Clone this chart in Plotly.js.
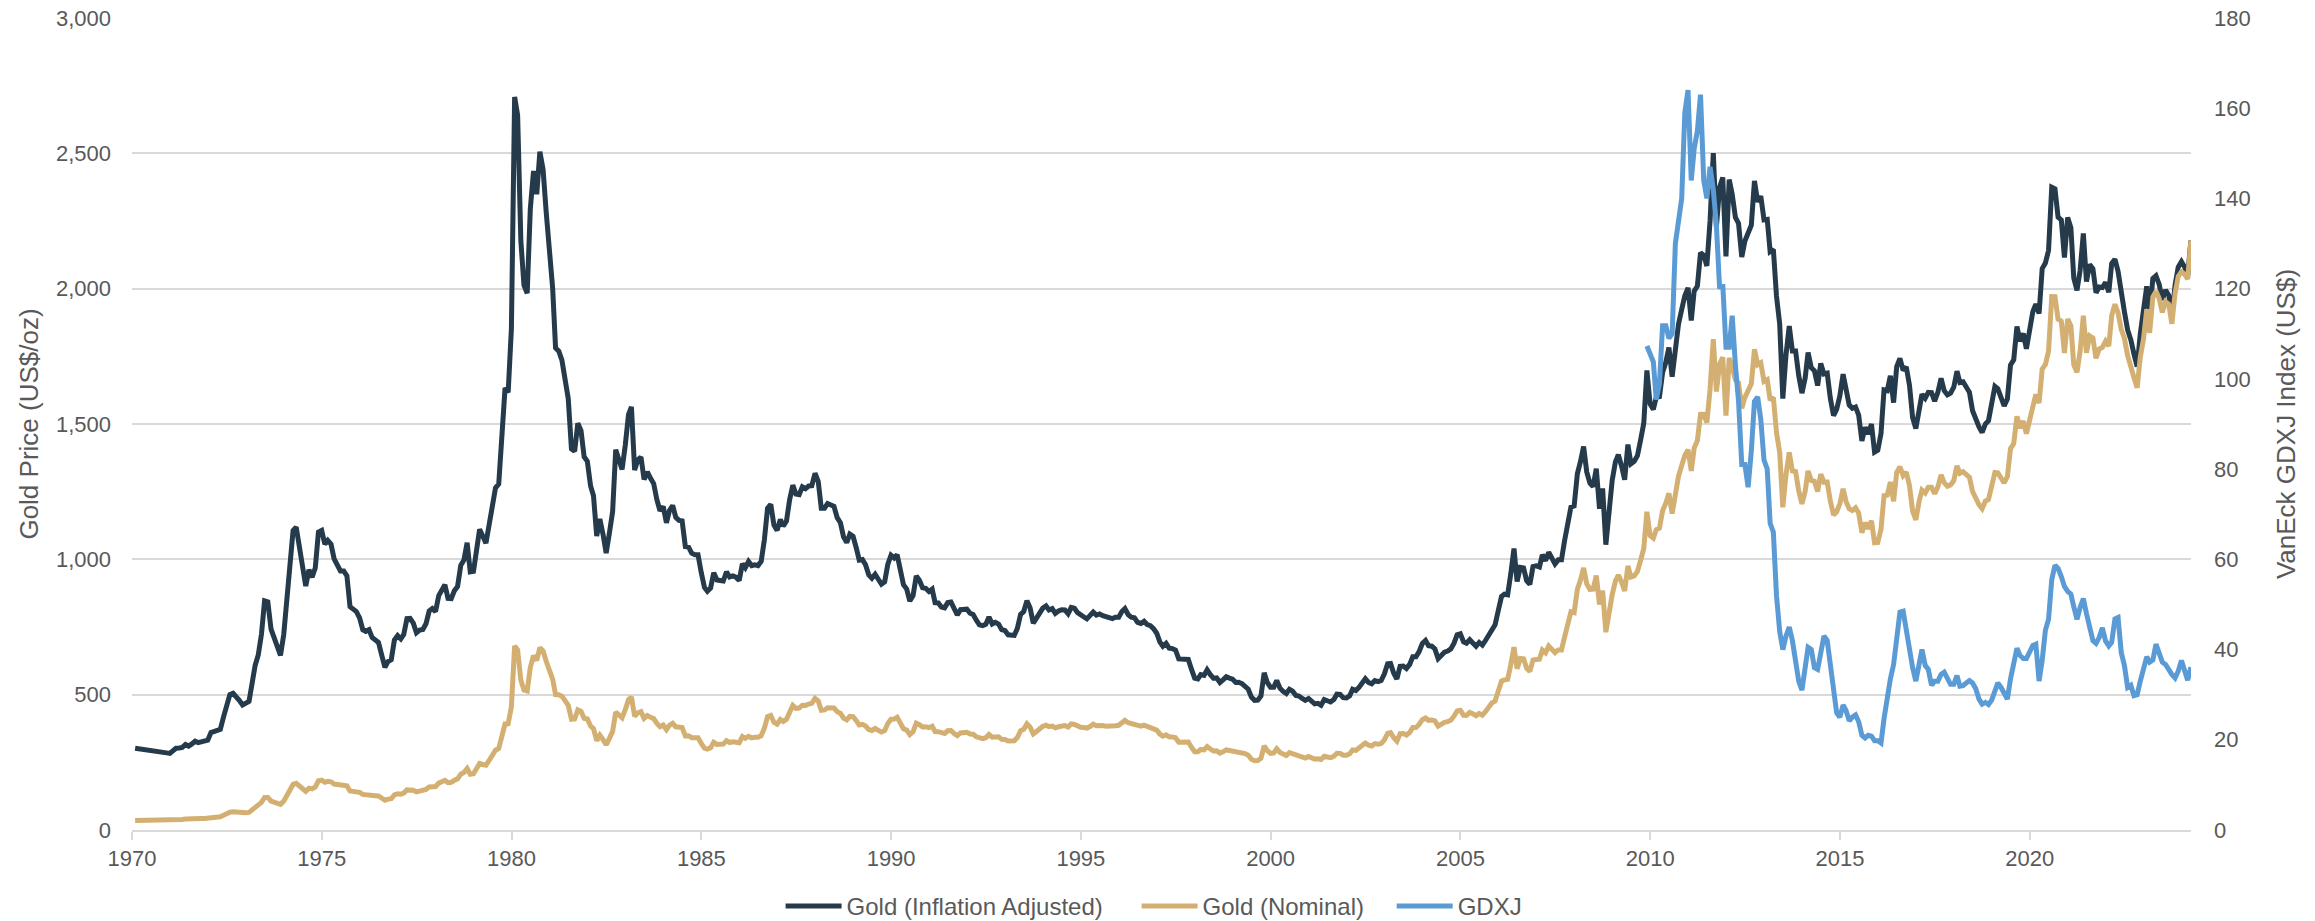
<!DOCTYPE html>
<html>
<head>
<meta charset="utf-8">
<script src="https://cdn.plot.ly/plotly-3.0.1.min.js"></script>
<style>
html,body{margin:0;padding:0;background:#ffffff;}
#chart{width:2315px;height:921px;}
</style>
</head>
<body>
<div id="chart"></div>
<script>
// ---- Data (monthly) ----
const seriesNames = ['Gold (Inflation Adjusted)', 'Gold (Nominal)', 'GDXJ'];
const goldStart = {year: 1970, month: 1};   // first month of the gold series
const gdxjStart = {year: 2009, month: 11};  // first month of the GDXJ series
const xTickLabels = ['1970','1975','1980','1985','1990','1995','2000','2005','2010','2015','2020'];

// Gold (Nominal), US$/oz
const goldNominal = [
  35.0,35.0,35.1,35.1,35.2,35.2,35.2,35.3,35.3,35.3,35.4,35.4,
  37.9,38.7,38.9,39.0,40.5,40.1,41.0,42.7,42.0,42.5,42.9,43.5,
  45.8,48.3,48.3,49.0,54.6,62.1,65.7,67.0,65.5,64.9,62.9,63.9,
  65.1,74.2,84.4,90.5,102.0,120.1,120.4,106.8,103.0,100.1,94.8,106.7,
  129.2,150.2,168.4,172.2,163.3,154.1,143.0,154.6,151.8,158.8,181.7,183.9,
  176.3,179.6,178.1,169.9,167.4,164.2,165.2,163.1,144.0,142.8,142.5,139.3,
  131.6,131.0,132.6,127.9,126.9,125.7,117.6,109.9,114.1,116.0,130.0,133.7,
  132.3,136.3,148.2,149.2,146.6,140.8,143.4,144.8,149.5,159.3,162.0,160.5,
  173.2,178.2,183.7,175.1,176.3,183.7,188.7,206.3,212.1,227.2,206.1,207.8,
  227.3,245.7,242.1,239.2,257.6,279.1,294.7,300.8,355.2,391.7,392.5,455.1,
  680.0,665.3,553.6,517.4,513.8,600.7,644.3,626.5,673.6,661.2,623.5,594.9,
  557.6,500.2,499.8,494.6,479.8,460.8,409.3,410.2,443.3,437.8,412.9,410.1,
  384.1,374.3,330.0,350.4,333.9,314.9,338.6,364.2,435.1,422.4,414.8,444.3,
  481.3,491.5,419.5,432.7,437.4,412.5,422.6,416.2,411.7,393.6,381.5,388.0,
  370.9,386.8,394.3,381.3,377.4,378.2,347.7,348.2,341.1,340.2,341.2,320.2,
  302.7,299.1,304.1,324.3,316.3,316.8,317.3,330.2,323.4,326.1,325.3,322.4,
  345.4,338.9,345.7,340.4,342.6,342.7,348.5,376.7,418.7,423.5,398.4,391.1,
  408.2,401.1,408.9,438.4,460.1,449.6,450.5,461.0,460.2,465.4,467.8,486.3,
  476.7,442.1,443.6,451.7,451.2,451.2,437.1,431.4,413.4,406.8,420.2,418.8,
  404.0,387.8,390.2,384.2,371.0,367.6,375.0,365.4,361.8,366.9,393.8,409.4,
  410.1,416.8,393.1,374.3,369.1,352.3,362.5,394.7,389.3,380.8,381.8,378.1,
  383.6,363.8,363.3,358.4,356.8,366.7,367.7,356.4,348.7,358.7,359.8,361.1,
  354.5,353.9,344.3,338.6,337.2,340.8,353.1,342.9,345.4,344.4,335.0,334.8,
  329.0,329.3,329.9,341.9,367.1,371.9,392.0,379.8,355.3,364.2,373.8,383.3,
  386.9,381.9,384.1,377.3,381.4,385.6,385.5,380.4,391.6,389.8,384.4,379.3,
  378.6,376.6,382.1,391.0,385.2,387.6,386.2,383.7,383.1,383.0,385.5,387.0,
  399.5,404.8,396.2,392.9,391.9,385.3,383.5,387.5,383.1,381.1,377.9,369.0,
  354.1,346.6,351.8,344.5,343.8,340.8,324.1,323.8,323.0,324.9,306.0,289.0,
  289.1,297.5,295.9,308.4,299.1,292.3,292.9,284.1,288.9,296.1,293.9,291.6,
  287.1,287.3,286.0,282.4,276.4,261.3,256.1,256.7,264.7,310.7,293.2,283.1,
  284.6,300.0,286.4,280.0,275.3,285.7,281.6,274.5,273.7,270.0,266.0,271.5,
  265.5,261.9,263.0,260.5,272.4,270.2,267.5,272.4,283.4,283.1,276.2,275.9,
  281.7,295.5,294.0,302.7,314.5,321.2,313.3,310.3,319.2,316.6,319.2,333.4,
  356.9,359.8,340.6,328.2,355.7,356.5,351.0,359.8,378.9,378.9,389.9,407.6,
  414.0,405.3,406.7,403.3,383.8,392.4,398.1,400.5,405.3,420.5,439.4,442.1,
  424.0,423.4,434.2,429.2,421.9,430.7,424.5,437.9,456.0,469.9,476.7,509.8,
  549.9,555.0,557.1,610.6,675.4,596.2,633.7,632.6,598.2,585.8,627.8,629.8,
  631.2,664.8,654.9,679.4,666.9,655.5,665.3,665.4,712.7,754.6,806.3,803.2,
  889.6,922.3,968.4,909.7,888.7,889.5,939.8,833.0,884.5,730.8,814.5,869.8,
  919.5,942.0,916.5,883.3,975.5,934.5,939.0,955.5,995.8,1040.0,1175.8,1087.5,
  1078.5,1109.5,1115.5,1179.3,1207.5,1244.0,1169.0,1246.0,1307.0,1346.8,1383.5,1405.5,
  1327.0,1411.0,1439.0,1535.5,1536.5,1505.5,1628.5,1813.5,1620.0,1722.0,1746.0,1531.0,
  1744.0,1711.0,1662.5,1651.3,1558.0,1598.5,1622.0,1648.5,1776.0,1719.0,1726.0,1657.5,
  1664.0,1588.5,1598.3,1469.0,1394.5,1192.0,1314.5,1394.8,1326.5,1324.0,1253.0,1204.5,
  1251.0,1326.5,1291.8,1288.5,1250.5,1315.0,1285.3,1285.8,1216.5,1164.3,1175.5,1206.0,
  1260.3,1214.0,1187.0,1180.3,1190.5,1171.0,1098.4,1135.0,1114.0,1142.4,1061.1,1062.3,
  1111.8,1234.9,1237.0,1285.7,1214.7,1320.8,1342.0,1309.3,1322.5,1272.0,1178.1,1145.9,
  1212.8,1255.6,1244.9,1266.5,1266.2,1242.3,1267.6,1311.8,1283.1,1270.2,1275.0,1291.0,
  1345.2,1317.9,1323.9,1315.1,1302.7,1250.5,1223.7,1201.6,1187.3,1215.0,1220.7,1279.0,
  1321.0,1319.7,1295.4,1282.3,1305.6,1409.0,1427.6,1528.4,1485.3,1511.0,1464.6,1514.8,
  1582.9,1609.9,1577.2,1702.8,1719.7,1768.1,1971.0,1970.6,1886.9,1879.9,1762.6,1887.6,
  1863.7,1718.0,1691.1,1768.9,1900.0,1763.2,1825.8,1818.1,1742.8,1777.0,1783.3,1805.9,
  1788.2,1900.7,1942.2,1911.3,1848.4,1817.0,1753.4,1718.2,1671.8,1633.6,1747.6,1813.8,
  1923.9,1836.6,1969.0,1990.2,1963.1,1912.3,1951.7,1942.3,1870.1,1983.8,2045.4,2062.4,
  2053.5,2035.3,2178.0
];

// Gold (Inflation Adjusted), US$/oz in today's dollars
const goldReal = [
  302,300,299,297,295,293,291,290,288,286,285,283,
  292,302,303,305,316,310,318,328,323,326,328,332,
  360,365,366,372,418,466,500,505,488,478,462,468,
  475,538,608,647,724,847,843,742,711,686,645,722,
  866,996,1106,1119,1050,982,901,962,934,969,1101,1107,
  1056,1070,1056,1002,981,957,957,939,825,814,807,784,
  740,734,740,711,702,693,646,601,622,629,702,718,
  706,722,781,782,764,729,739,741,762,809,818,807,
  866,884,906,856,855,884,900,978,997,1061,954,956,
  1039,1111,1085,1060,1128,1211,1264,1278,1495,1633,1617,1852,
  2708,2641,2176,2013,1983,2295,2435,2349,2506,2440,2282,2154,
  2002,1781,1769,1736,1674,1594,1408,1399,1503,1475,1379,1362,
  1271,1235,1086,1149,1092,1023,1097,1176,1405,1360,1332,1422,
  1535,1563,1330,1367,1378,1295,1323,1299,1280,1220,1179,1195,
  1135,1180,1199,1155,1144,1142,1047,1045,1023,1017,1017,951,
  896,882,894,950,924,922,920,954,935,939,934,922,
  984,969,992,977,980,977,993,1074,1189,1203,1127,1107,
  1147,1123,1141,1219,1274,1241,1239,1268,1261,1271,1272,1318,
  1287,1189,1189,1206,1200,1196,1154,1135,1083,1062,1093,1085,
  1042,997,999,980,942,930,945,921,908,917,981,1015,
  1005,1017,955,906,890,846,866,939,923,895,893,881,
  890,840,839,824,821,840,842,813,795,814,817,816,
  801,796,775,758,755,760,787,761,767,761,740,737,
  721,721,719,745,797,807,847,820,764,783,800,820,
  828,813,818,800,809,814,813,799,822,819,803,793,
  787,780,791,805,794,798,792,787,782,781,786,786,
  807,818,796,786,784,767,763,771,759,755,744,727,
  694,679,690,672,670,665,632,631,627,630,594,561,
  558,574,571,592,574,561,562,545,555,566,561,557,
  545,546,541,531,520,491,479,480,495,581,545,527,
  527,552,524,512,504,520,513,497,495,486,479,486,
  473,466,468,461,482,478,473,482,502,501,489,488,
  496,520,515,527,547,559,545,540,552,548,552,577,
  614,615,579,558,605,606,597,612,640,640,659,689,
  700,681,679,669,633,647,657,661,669,690,721,725,
  695,690,703,691,679,693,683,701,720,742,758,811,
  863,871,869,946,1040,918,970,968,921,908,973,976,
  972,1017,995,1026,1000,983,998,998,1069,1124,1193,1197,
  1316,1360,1417,1323,1281,1269,1335,1187,1262,1054,1197,1292,
  1360,1387,1345,1294,1424,1353,1362,1383,1440,1503,1698,1574,
  1554,1599,1601,1690,1728,1783,1675,1783,1869,1923,1974,2003,
  1882,1991,2010,2133,2123,2084,2251,2501,2229,2375,2411,2119,
  2403,2348,2263,2241,2117,2176,2211,2235,2398,2321,2342,2254,
  2256,2137,2145,1973,1870,1594,1757,1862,1770,1770,1679,1614,
  1670,1764,1708,1697,1642,1724,1685,1688,1596,1531,1554,1604,
  1684,1616,1570,1558,1563,1533,1437,1488,1463,1500,1396,1403,
  1465,1626,1623,1678,1579,1712,1742,1698,1711,1643,1524,1483,
  1560,1610,1595,1617,1616,1584,1617,1669,1623,1608,1614,1636,
  1695,1653,1656,1640,1617,1549,1516,1489,1469,1500,1512,1590,
  1639,1630,1592,1567,1592,1718,1737,1860,1806,1834,1778,1840,
  1915,1943,1908,2074,2095,2141,2375,2369,2264,2254,2115,2263,
  2225,2039,1994,2068,2204,2026,2089,2074,1985,2006,2004,2023,
  1987,2093,2109,2064,1974,1915,1848,1811,1759,1712,1833,1908,
  2009,1906,2038,2048,2016,1958,1995,1975,1898,2014,2080,2100,
  2080,2047,2178
];

// VanEck GDXJ Index (US$), right axis
const gdxj = [
  107.3,105.3,
  103.8,95.4,99,111.8,111.8,109,110,130,136,140,159,164,
  144,151,155,163,144,140,147,142,134,120,121,107,
  107,114,103,95,81,81,76,84,95,96,91,82,
  80,68,66,52,44,40,43,45,42,37,33,31,
  37,40.5,40,36,35.6,39.5,43,42,37,31,26,25,
  27.7,26.5,24.2,25,25.5,24,21,20.4,21,20.8,19.8,19.8,
  19.3,24.7,30,33.5,36.7,43,48.3,48.5,44,39,36,33,
  37.5,40,36.5,35.6,32.1,33,33,34.5,35,33.3,32.3,32.3,
  34.2,31.9,32,32.6,33.1,32.6,31.3,29,27.9,28.3,27.8,28.8,
  31,32.6,31.6,30.3,29,33.5,37.4,40.3,38.7,38,38,39.8,
  40.9,41.2,33,37.6,44.3,46.7,55.5,58.7,58,56.2,54,52.9,
  52.3,49.5,46.7,49.3,51.3,48,44.4,42,41.4,42.7,44.8,41.9,
  40.8,41.6,46.8,47.1,39.3,36.5,31.6,32.1,29.8,30,33,35.8,
  38.4,37.2,37.7,41.2,39,37.2,36.7,35.5,34.5,33.7,35.2,37.6,
  35.7,33.2,36.1
];

// ---- Month-end dates for each series ----
function monthEnds(start, n) {
  const out = [];
  for (let i = 0; i < n; i++) {
    const d = new Date(Date.UTC(start.year, start.month - 1 + i + 1, 0));
    out.push(d.toISOString().slice(0, 10));
  }
  return out;
}
const goldDates = monthEnds(goldStart, goldNominal.length);
const gdxjDates = monthEnds(gdxjStart, gdxj.length);

const FONT = 'Liberation Sans, Arial, Helvetica, sans-serif';
const TXT = '#595959';
const GRID = '#d9d9d9';

const traces = [
  {
    x: goldDates, y: goldReal, name: seriesNames[0], type: 'scatter', mode: 'lines',
    line: {color: '#253a4a', width: 5, shape: 'linear'}, yaxis: 'y', legend: 'legend'
  },
  {
    x: goldDates, y: goldNominal, name: seriesNames[1], type: 'scatter', mode: 'lines',
    line: {color: '#d3b072', width: 5, shape: 'linear'}, yaxis: 'y', legend: 'legend2'
  },
  {
    x: gdxjDates, y: gdxj, name: seriesNames[2], type: 'scatter', mode: 'lines',
    line: {color: '#5b9bd5', width: 5, shape: 'linear'}, yaxis: 'y2', legend: 'legend3'
  }
];

function legendAt(xFrac) {
  return {
    orientation: 'h', x: xFrac, xanchor: 'left', y: -0.094, yanchor: 'middle',
    font: {family: FONT, size: 24, color: TXT},
    itemwidth: 56, bgcolor: 'rgba(0,0,0,0)', borderwidth: 0
  };
}

const layout = {
  width: 2315, height: 921,
  margin: {l: 132, r: 124, t: 18, b: 91, pad: 0, autoexpand: false},
  paper_bgcolor: '#ffffff', plot_bgcolor: '#ffffff',
  font: {family: FONT, size: 22, color: TXT},
  showlegend: true,
  legend: legendAt(0.3150),
  legend2: legendAt(0.4879),
  legend3: legendAt(0.6118),
  xaxis: {
    type: 'date',
    range: ['1970-01-01', '2024-04-01'],
    tickmode: 'array',
    tickvals: xTickLabels.map(y => y + '-01-01'),
    ticktext: xTickLabels,
    showgrid: false, zeroline: false,
    showline: true, linecolor: GRID, linewidth: 2,
    ticks: 'outside', ticklen: 8, tickwidth: 2, tickcolor: GRID,
    tickfont: {family: FONT, size: 22, color: TXT},
    fixedrange: true
  },
  yaxis: {
    range: [0, 3000], dtick: 500, tick0: 0,
    tickformat: ',d',
    showgrid: true, gridcolor: GRID, gridwidth: 2,
    zeroline: false, showline: false, ticks: '',
    ticklabelstandoff: 20,
    tickfont: {family: FONT, size: 22, color: TXT},
    title: {text: 'Gold Price (US$/oz)', font: {family: FONT, size: 26, color: TXT}, standoff: 9},
    fixedrange: true
  },
  yaxis2: {
    overlaying: 'y', side: 'right',
    range: [0, 180], dtick: 20, tick0: 0,
    showgrid: false, zeroline: false, showline: false, ticks: '',
    ticklabelstandoff: 22,
    tickfont: {family: FONT, size: 22, color: TXT},
    title: {text: 'VanEck GDXJ Index (US$)', font: {family: FONT, size: 26, color: TXT}, standoff: 27},
    fixedrange: true
  }
};

Plotly.newPlot('chart', traces, layout, {displayModeBar: false, staticPlot: true});
</script>
</body>
</html>
